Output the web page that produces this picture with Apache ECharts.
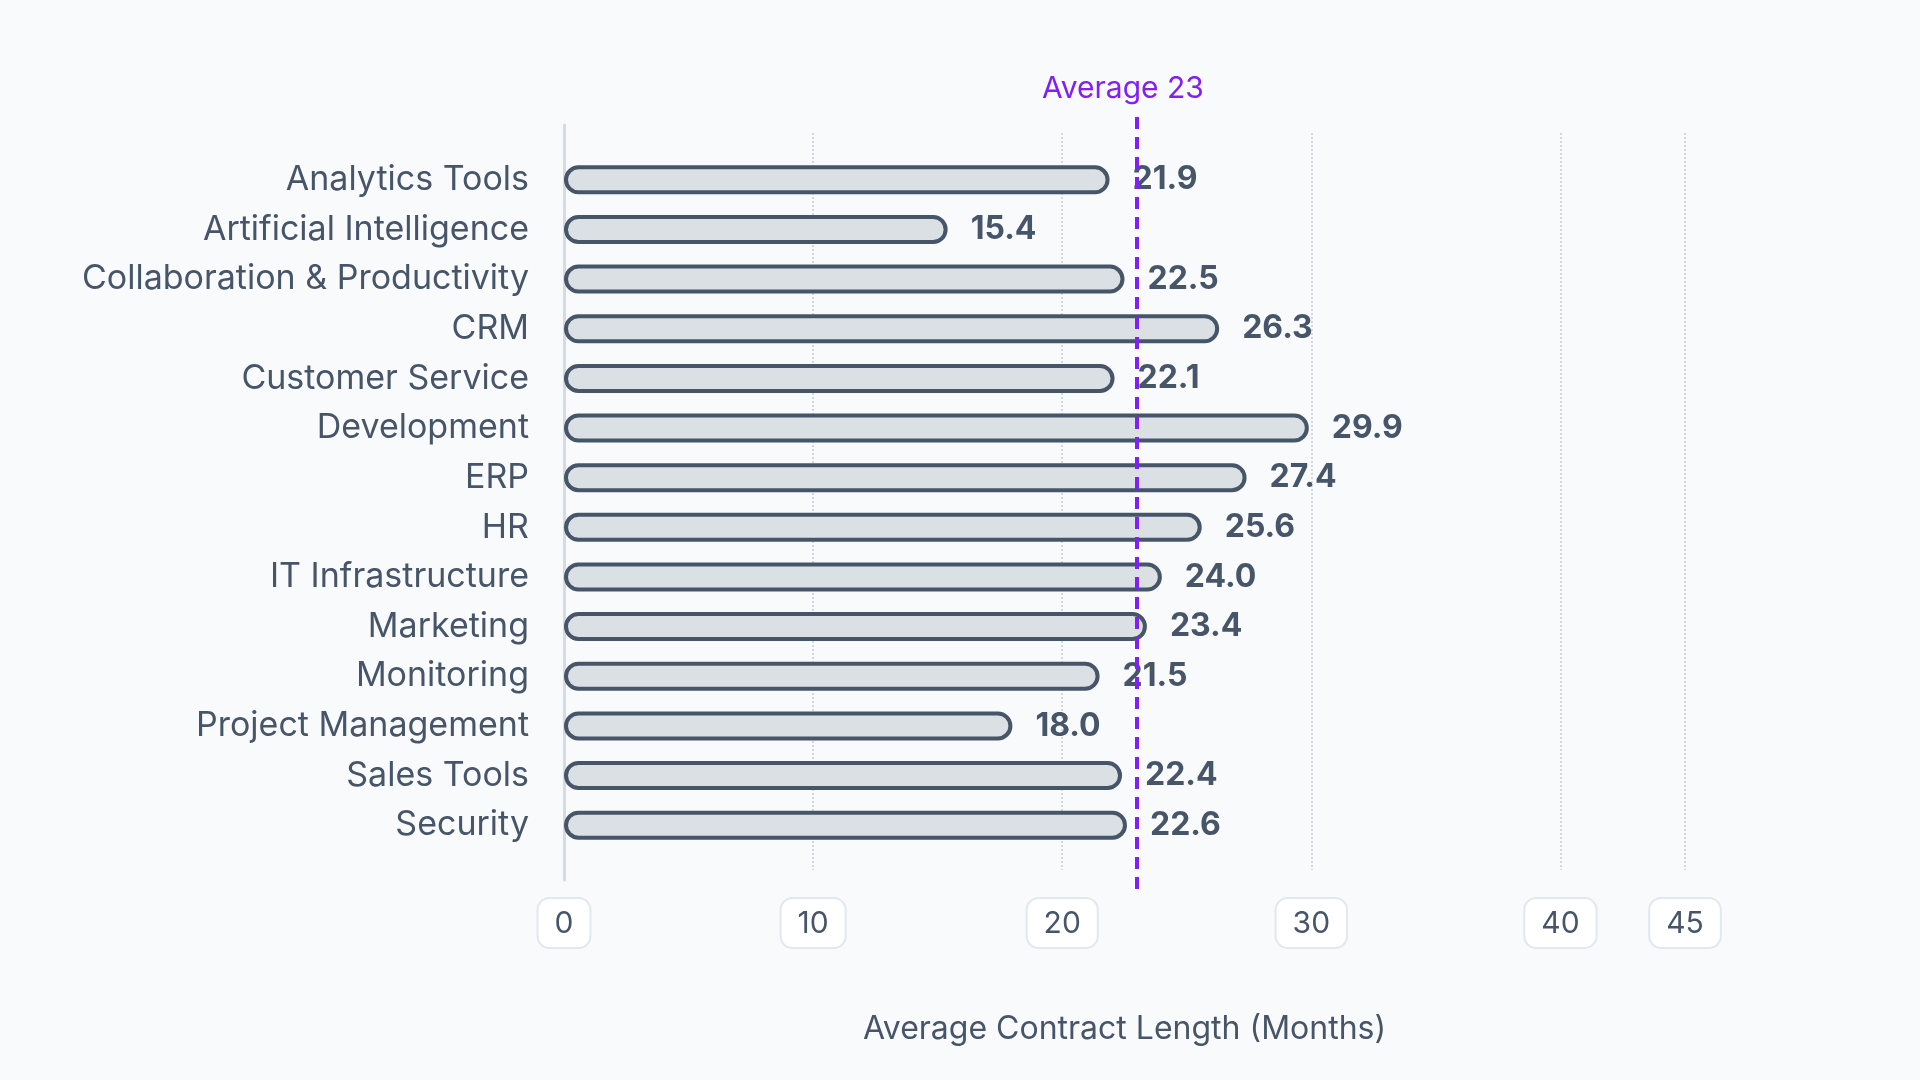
<!DOCTYPE html>
<html>
<head>
<meta charset="utf-8">
<script src="https://cdn.jsdelivr.net/npm/echarts@6/dist/echarts.min.js"></script>
<style>
html,body{margin:0;padding:0;background:#f8fafc;}
#chart{width:1920px;height:1080px;}
</style>
</head>
<body>
<div id="chart"></div>
<script>
const categories = ["Analytics Tools","Artificial Intelligence","Collaboration & Productivity","CRM","Customer Service","Development","ERP","HR","IT Infrastructure","Marketing","Monitoring","Project Management","Sales Tools","Security"];
const values = [21.9,15.4,22.5,26.3,22.1,29.9,27.4,25.6,24.0,23.4,21.5,18.0,22.4,22.6];
const tickValues = [0,10,20,30,40,45];
const AVERAGE = 23;
const X_MIN = 0, X_MAX = 45;
const axisTitle = "Average Contract Length (Months)";

const FONT = 'Inter, "Noto Sans", sans-serif';
const SLATE = '#475569';
const L = 564, R = 1920 - 1685;

const chart = echarts.init(document.getElementById('chart'));
chart.setOption({
  backgroundColor: '#f8fafc',
  animation: false,
  textStyle: { fontFamily: FONT },
  grid: [
    { left: L, right: R, top: 155, bottom: 230 },   // bars
    { left: L, right: R, top: 133, bottom: 210 },   // split lines + labels
    { left: L, right: R, top: 125, bottom: 200 },   // y axis line
    { left: L, right: R, top: 115, bottom: 191 }    // average line
  ],
  xAxis: [
    { gridIndex: 0, type: 'value', min: X_MIN, max: X_MAX, show: false },
    { gridIndex: 1, type: 'value', min: X_MIN, max: X_MAX,
      axisLine: { show: false },
      axisTick: { show: false, customValues: tickValues },
      splitLine: { show: true, lineStyle: { type: 'dotted', color: '#d0d8e2', width: 2 } },
      axisLabel: {
        customValues: tickValues,
        margin: 29,
        fontSize: 30, color: SLATE, fontFamily: FONT,
        backgroundColor: '#ffffff',
        borderColor: '#e2e8f0', borderWidth: 2, borderRadius: 11,
        padding: [10, 16, 8, 16]
      },
      name: axisTitle, nameLocation: 'middle', nameGap: 143,
      nameTextStyle: { fontSize: 32, color: SLATE, fontFamily: FONT }
    },
    { gridIndex: 2, type: 'value', min: X_MIN, max: X_MAX, show: false },
    { gridIndex: 3, type: 'value', min: X_MIN, max: X_MAX, show: false }
  ],
  yAxis: [
    { gridIndex: 0, type: 'category', data: categories, inverse: true,
      axisLine: { show: false }, axisTick: { show: false }, splitLine: { show: false },
      axisLabel: { fontSize: 34, color: SLATE, margin: 35, fontFamily: FONT } },
    { gridIndex: 1, type: 'value', show: false },
    { gridIndex: 2, type: 'value', min: 0, max: 1,
      axisLine: { show: true, lineStyle: { color: '#d3dbe5', width: 3 } },
      axisTick: { show: false }, axisLabel: { show: false }, splitLine: { show: false } },
    { gridIndex: 3, type: 'value', show: false }
  ],
  series: [
    {
      type: 'bar', xAxisIndex: 0, yAxisIndex: 0,
      data: values,
      barWidth: 29,
      itemStyle: { color: '#dbe0e5', borderColor: SLATE, borderWidth: 4, borderRadius: 20 },
      label: {
        show: true, position: 'right', distance: 23,
        formatter: p => p.value.toFixed(1),
        fontSize: 32, fontWeight: 'bold', color: SLATE, fontFamily: FONT
      },
      z: 3
    },
    {
      type: 'line', xAxisIndex: 3, yAxisIndex: 3, data: [],
      markLine: {
        silent: true, symbol: ['none', 'none'],
        lineStyle: { type: [12, 8], color: '#8120f5', width: 4 },
        label: {
          show: true, position: 'end', formatter: 'Average ' + AVERAGE,
          fontSize: 30, color: '#8120f5', fontFamily: FONT, offset: [-14, -6]
        },
        data: [{ xAxis: AVERAGE }]
      },
      z: 4
    }
  ]
});
</script>
</body>
</html>
